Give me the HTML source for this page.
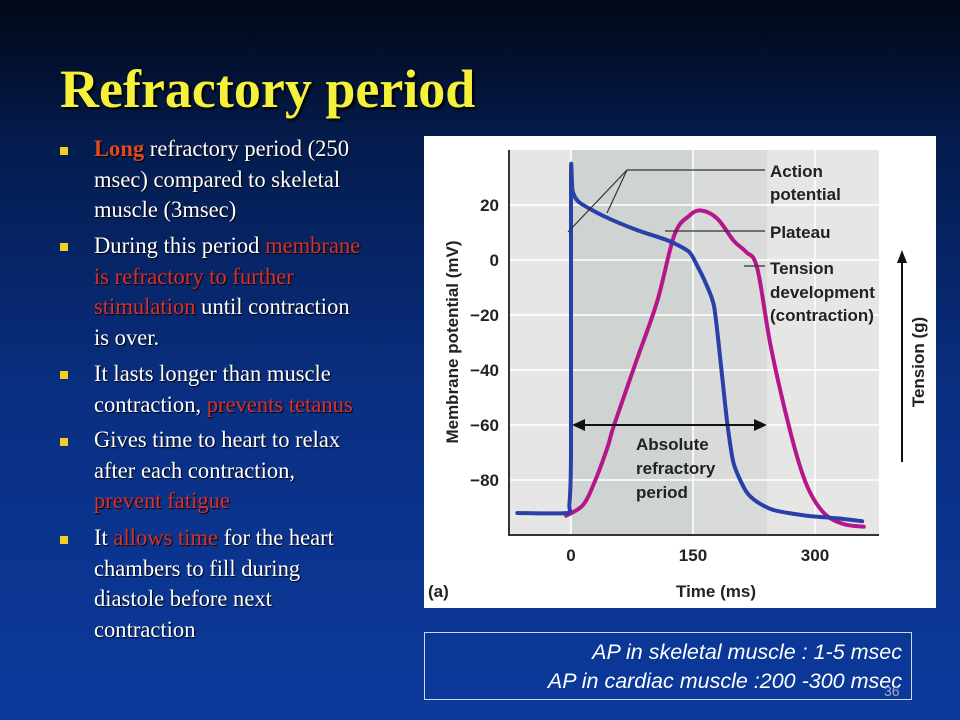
<!DOCTYPE html>
<html><head><meta charset="utf-8"><style>
html,body{margin:0;padding:0}
body{width:960px;height:720px;position:relative;overflow:hidden;background:linear-gradient(180deg,#020817 0%,#041c4e 20%,#0a2f82 55%,#0b3a9c 100%);font-family:"Liberation Serif",serif}
.title{position:absolute;left:60px;top:58px;color:#f5f03a;font-weight:bold;font-size:54px;text-shadow:2px 2px 2px #000;transform:scaleX(1.0);transform-origin:left}
.b{position:absolute;left:94px;color:#fff;font-size:23.5px;line-height:30.5px;text-shadow:1px 1px 1px #000;white-space:nowrap;transform:scaleX(0.96);transform-origin:left}
.r{color:#d8302c}
.sq{position:absolute;left:60px;width:8px;height:8px;background:#f0d020}
.box{position:absolute;left:424px;top:632px;width:488px;height:68px;border:1px solid #cfd6f0;box-sizing:border-box;color:#fff;font-family:"Liberation Sans",sans-serif;font-style:italic;font-size:21.5px;text-align:right;padding:5px 9px 0 0;line-height:29px;white-space:nowrap}
.pn{position:absolute;left:884px;top:683px;color:#aab;font-family:"Liberation Sans",sans-serif;font-size:14px}
</style></head><body>
<div class="title">Refractory period</div>

<div class="sq" style="top:147px"></div>
<div class="b" style="top:134px"><span class="r" style="color:#e04a20;font-weight:bold">Long</span> refractory period (250<br>msec) compared to skeletal<br>muscle (3msec)</div>
<div class="sq" style="top:243px"></div>
<div class="b" style="top:231px">During this period <span class="r">membrane</span><br><span class="r">is refractory to further</span><br><span class="r">stimulation</span> until contraction<br>is over.</div>
<div class="sq" style="top:371px"></div>
<div class="b" style="top:359px">It lasts longer than muscle<br>contraction, <span class="r">prevents tetanus</span></div>
<div class="sq" style="top:438px"></div>
<div class="b" style="top:425px">Gives time to heart to relax<br>after each contraction,<br><span class="r">prevent fatigue</span></div>
<div class="sq" style="top:536px"></div>
<div class="b" style="top:523px">It <span class="r">allows time</span> for the heart<br>chambers to fill during<br>diastole before next<br>contraction</div>

<svg id="chart" style="position:absolute;left:424px;top:136px" width="512" height="472" viewBox="424 136 512 472" font-family="Liberation Sans, sans-serif">
<rect x="424" y="136" width="512" height="472" fill="#fff"/>
<rect x="509" y="150" width="370" height="385" fill="#e6e6e4"/>
<rect x="571" y="150" width="196" height="385" fill="#cfd3d2"/>
<rect x="692" y="150" width="75" height="385" fill="#d8dbda"/>
<g id="grid"></g>
<g id="ticks" font-size="17" font-weight="bold" fill="#222"></g>
<line x1="509" y1="150" x2="509" y2="536" stroke="#333" stroke-width="2"/>
<line x1="508" y1="535" x2="879" y2="535" stroke="#333" stroke-width="2"/>
<g id="series"></g>
<g stroke="#333" stroke-width="1.2" fill="none">
<polyline points="568,232 627,170 765,170"/><polyline points="627,170 607,213"/>
<line x1="665" y1="231" x2="765" y2="231"/>
<line x1="744" y1="266" x2="765" y2="266"/>
</g>
<g font-size="17" font-weight="bold" fill="#222">
<text x="770" y="177">Action</text><text x="770" y="200">potential</text>
<text x="770" y="238">Plateau</text>
<text x="770" y="274">Tension</text><text x="770" y="298">development</text><text x="770" y="321">(contraction)</text>
<text x="636" y="450">Absolute</text><text x="636" y="474">refractory</text><text x="636" y="498">period</text>
<text x="428" y="597">(a)</text>
<text x="676" y="597">Time (ms)</text>
<text transform="translate(458,342) rotate(-90)" text-anchor="middle">Membrane potential (mV)</text>
<text transform="translate(924,362) rotate(-90)" text-anchor="middle">Tension (g)</text>
</g>
<line x1="902" y1="260" x2="902" y2="462" stroke="#111" stroke-width="2"/>
<polygon points="897,263 907,263 902,250" fill="#111"/>
<line x1="580" y1="425" x2="758" y2="425" stroke="#111" stroke-width="2"/>
<polygon points="572,425 585,419 585,431" fill="#111"/><polygon points="767,425 754,419 754,431" fill="#111"/>
</svg>

<div class="box">AP in skeletal muscle : 1-5 msec<br>AP in cardiac muscle :200 -300 msec</div>
<div class="pn">36</div>

<script>
const xTicks=[0,150,300];
const yTicks=[20,0,-20,-40,-60,-80];
const apTime=[-66,-5,-2,0,0,2,10,40,80,120,145,155,165,176,185,192,200,215,229,250,290,330,358];
const apMv=[-92,-92,-89,-70,31,25,21,16,11,7,3,-2,-8,-17,-40,-59,-74,-84,-88,-91,-93,-94,-95];
const tensionTime=[-6,15,30,45,53,80,106,127,145,160,180,200,215,229,246,271,290,311,335,360];
const tensionVal=[-93,-89,-80,-68,-60,-37,-15,9,16,18,15,7,3,-3,-32,-64,-82,-92,-96,-97];
const xS=t=>571+t*0.8133;
const yS=v=>260-v*2.75;
const NS="http://www.w3.org/2000/svg";
const grid=document.getElementById('grid'),ticks=document.getElementById('ticks'),series=document.getElementById('series');
yTicks.forEach(v=>{
 const l=document.createElementNS(NS,'line');
 
 
 l.setAttribute('x1',509);l.setAttribute('x2',879);l.setAttribute('y1',yS(v));l.setAttribute('y2',yS(v));
 l.setAttribute('stroke','#fff');l.setAttribute('stroke-width','1.5');grid.appendChild(l);
 const t=document.createElementNS(NS,'text');
 
 
 t.setAttribute('x',499);t.setAttribute('y',yS(v)+6);t.setAttribute('text-anchor','end');
 t.textContent=v<0?'\u2212'+(-v):String(v);ticks.appendChild(t);
});
xTicks.forEach(v=>{
 const l=document.createElementNS(NS,'line');
 
 
 l.setAttribute('x1',xS(v));l.setAttribute('x2',xS(v));l.setAttribute('y1',150);l.setAttribute('y2',535);
 l.setAttribute('stroke','#fff');l.setAttribute('stroke-width','1.5');grid.appendChild(l);
 const t=document.createElementNS(NS,'text');
 
 
 t.setAttribute('x',xS(v));t.setAttribute('y',561);t.setAttribute('text-anchor','middle');
 t.textContent=String(v);ticks.appendChild(t);
});
function line(ts,vs,color,name,k){
 const pts=ts.map((t,i)=>[xS(t),yS(vs[i])]);
 let d='M'+pts[0][0]+','+pts[0][1];
 for(let i=0;i<pts.length-1;i++){
  const p0=pts[Math.max(0,i-1)],p1=pts[i],p2=pts[i+1],p3=pts[Math.min(pts.length-1,i+2)];
  const c1=[p1[0]+(p2[0]-p0[0])*k,p1[1]+(p2[1]-p0[1])*k];
  const c2=[p2[0]-(p3[0]-p1[0])*k,p2[1]-(p3[1]-p1[1])*k];
  d+=' C'+c1[0]+','+c1[1]+' '+c2[0]+','+c2[1]+' '+p2[0]+','+p2[1];
 }
 const p=document.createElementNS(NS,'path');
 
 
 p.setAttribute('d',d);
 p.setAttribute('fill','none');p.setAttribute('stroke',color);p.setAttribute('stroke-width','4');
 p.setAttribute('stroke-linejoin','round');p.setAttribute('stroke-linecap','round');
 series.appendChild(p);
}
line(tensionTime,tensionVal,'#b5178a','tension-line',0.17);
line(apTime,apMv,'#2840a8','action-potential-line',0.12);
</script>
</body></html>
